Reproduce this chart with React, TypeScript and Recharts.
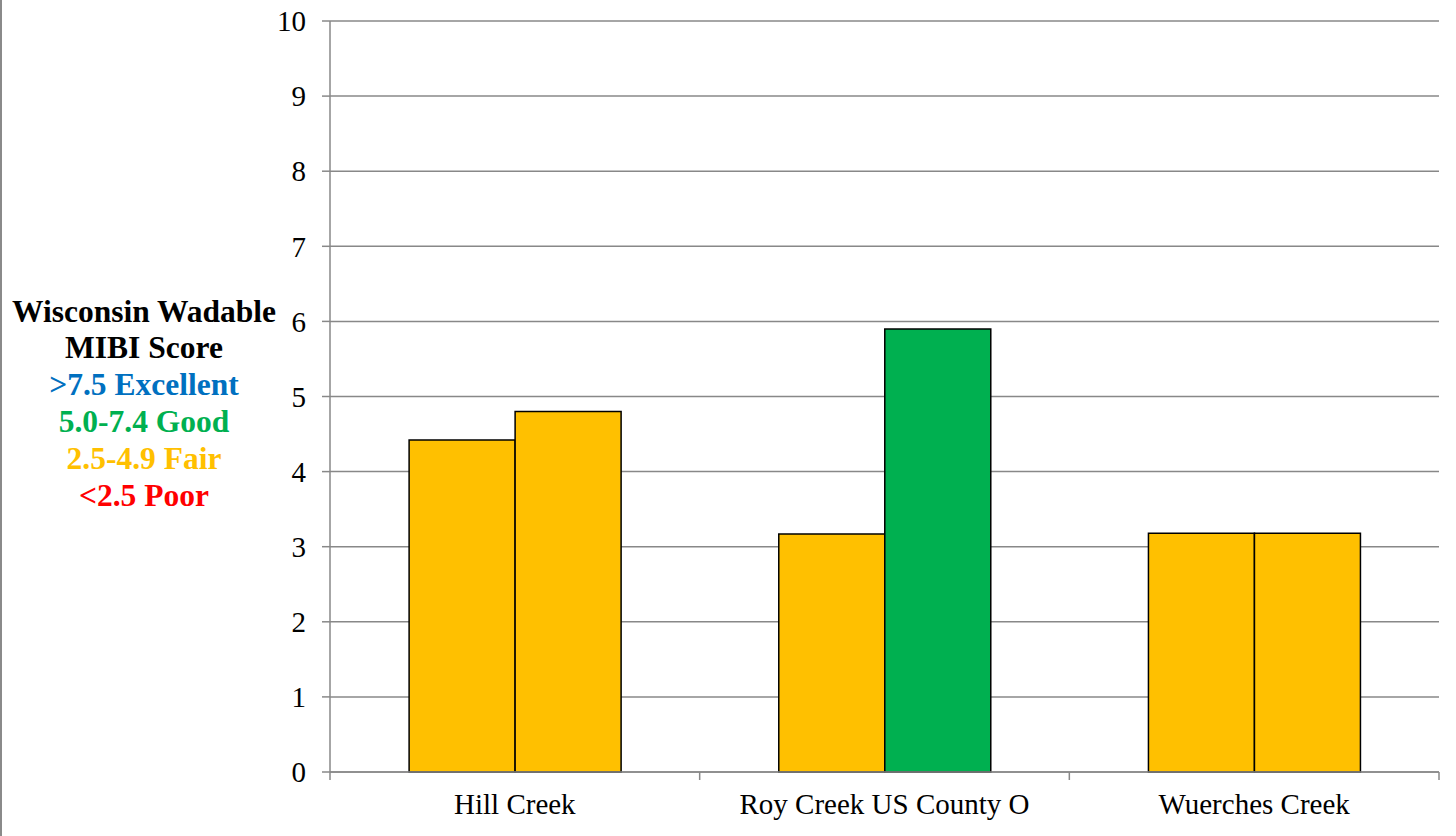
import { BarChart, Bar, XAxis, YAxis, CartesianGrid, Cell } from 'recharts';

const sites = ['Hill Creek', 'Roy Creek US County O', 'Wuerches Creek'];
const firstSample = [4.42, 3.17, 3.18];
const secondSample = [4.8, 5.9, 3.18];
const yTicks = [0, 1, 2, 3, 4, 5, 6, 7, 8, 9, 10];

const labelLines = [
  { text: 'Wisconsin Wadable', color: '#000000' },
  { text: 'MIBI Score', color: '#000000' },
  { text: '>7.5 Excellent', color: '#0070C0' },
  { text: '5.0-7.4 Good', color: '#00B050' },
  { text: '2.5-4.9 Fair', color: '#FFC000' },
  { text: '<2.5 Poor', color: '#FF0000' },
];

const data = sites.map((site, i) => ({
  site,
  first: firstSample[i],
  second: secondSample[i],
}));

// colour by MIBI rating band
const scoreColor = (v: number) => {
  if (v >= 7.5) return '#0070C0';
  if (v >= 5) return '#00B050';
  if (v >= 2.5) return '#FFC000';
  return '#FF0000';
};

const FONT = "'Times New Roman', 'Liberation Serif', serif";
const GRID = '#888888';
const CHART_W = 1456;
const MARGIN = { top: 21, right: 17, bottom: 0, left: 0 };
const Y_W = 330;
const X_TICK_MARGIN = 21;

function AxisLabel(props: any) {
  const vb = props.viewBox || { x: 0, y: 21, width: 330, height: 751 };
  const cx = 144;
  const lineH = 36.8;
  const mid = vb.y + vb.height / 2 + 6;
  const start = mid - (lineH * (labelLines.length - 1)) / 2;
  return (
    <text
      textAnchor='middle'
      fontFamily={FONT}
      fontWeight='bold'
      fontSize={31.5}
    >
      {labelLines.map((l, i) => (
        <tspan
          key={i}
          x={cx}
          y={start + i * lineH}
          dy='0.35em'
          fill={l.color}
        >
          {l.text}
        </tspan>
      ))}
    </text>
  );
}

// category label plus tick marks at the category boundaries
function SiteTick(props: any) {
  const { x, y, payload, index, visibleTicksCount } = props;
  const count = visibleTicksCount || sites.length;
  const plotW =
    typeof props.width === 'number' && props.width > 0
      ? props.width
      : CHART_W - MARGIN.left - MARGIN.right - Y_W;
  const half = plotW / count / 2;
  const axisY = y - X_TICK_MARGIN;
  return (
    <g>
      <line
        x1={x - half}
        x2={x - half}
        y1={axisY}
        y2={axisY + 8}
        stroke={GRID}
        strokeWidth={1.5}
      />
      {index === count - 1 && (
        <line
          x1={x + half}
          x2={x + half}
          y1={axisY}
          y2={axisY + 8}
          stroke={GRID}
          strokeWidth={1.5}
        />
      )}
      <text
        x={x}
        y={y}
        dy='0.71em'
        textAnchor='middle'
        fill='#000'
        fontSize={29}
        fontFamily={FONT}
      >
        {payload.value}
      </text>
    </g>
  );
}

export default function App() {
  return (
    <div
      style={{
        position: 'absolute',
        left: 0,
        top: 0,
        width: 1456,
        height: 836,
        background: '#fff',
      }}
    >
      <div
        style={{
          position: 'absolute',
          left: 0,
          top: 0,
          width: 2,
          height: 836,
          background: '#8a8a8a',
        }}
      />
      <BarChart
        width={CHART_W}
        height={836}
        data={data}
        margin={MARGIN}
        barCategoryGap='21.4%'
        barGap={0}
      >
        <CartesianGrid vertical={false} stroke={GRID} strokeWidth={1.5} />
        <XAxis
          dataKey='site'
          height={64}
          axisLine={{ stroke: GRID, strokeWidth: 1.5 }}
          tickLine={false}
          tickSize={0}
          tickMargin={X_TICK_MARGIN}
          tick={<SiteTick />}
          interval={0}
        />
        <YAxis
          width={Y_W}
          domain={[0, 10]}
          ticks={yTicks}
          interval={0}
          axisLine={{ stroke: GRID, strokeWidth: 1.5 }}
          tickLine={{ stroke: GRID, strokeWidth: 1.5 }}
          tickSize={8}
          tickMargin={16}
          tick={{ fill: '#000', fontSize: 29, fontFamily: FONT }}
          label={{ content: AxisLabel }}
        />
        <Bar
          dataKey='first'
          stroke='#000'
          strokeWidth={1.5}
          isAnimationActive={false}
        >
          {data.map((d, i) => (
            <Cell key={i} fill={scoreColor(d.first)} />
          ))}
        </Bar>
        <Bar
          dataKey='second'
          stroke='#000'
          strokeWidth={1.5}
          isAnimationActive={false}
        >
          {data.map((d, i) => (
            <Cell key={i} fill={scoreColor(d.second)} />
          ))}
        </Bar>
      </BarChart>
    </div>
  );
}
